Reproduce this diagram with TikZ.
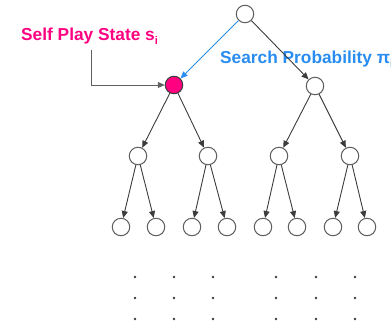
\documentclass[tikz,border=0pt]{standalone}
\usepackage{fontspec}
\setmainfont{Liberation Sans}
\usetikzlibrary{arrows.meta}
\definecolor{statepink}{RGB}{255,0,128}
\definecolor{probblue}{RGB}{40,140,240}
\definecolor{edgegray}{RGB}{60,60,60}
\definecolor{ringgray}{RGB}{95,95,95}
\tikzset{
  x=1pt, y=-1pt,
  treenode/.style={circle, draw=ringgray, line width=1pt, fill=white, minimum size=17.5pt, inner sep=0pt},
  edge/.style={draw=edgegray, line width=0.9pt, -{Triangle[length=7pt,width=6pt]}},
  dotmark/.style={circle, fill=edgegray, minimum size=2.6pt, inner sep=0pt},
  lbl/.style={font=\bfseries\fontsize{17.3}{18}\selectfont, inner sep=0pt, anchor=base west}
}
\begin{document}
\begin{tikzpicture}
\useasboundingbox (0,0) rectangle (391,325);
\clip (0,0) rectangle (391,325);

% tree nodes
\node[treenode] (r) at (245,14) {};
\node[treenode, fill=statepink, draw=edgegray] (a) at (174,85) {};
\node[treenode] (b) at (315,86) {};
\node[treenode] (a1) at (138,156) {};
\node[treenode] (a2) at (208,156) {};
\node[treenode] (b1) at (279,156) {};
\node[treenode] (b2) at (350,156) {};
\foreach \n/\x in {a11/121, a12/156, a21/192, a22/227, b11/263, b12/297, b21/333, b22/367}
  \node[treenode] (\n) at (\x,227) {};

% labels
\node[lbl, text=statepink] (sp) at (21,40) {Self Play State s\raisebox{-0.25em}{\fontsize{11}{12}\selectfont i}};
\node[lbl, text=probblue] (pr) at (220,63) {Search Probability π\raisebox{-0.25em}{\fontsize{11}{12}\selectfont i}};

% connectors
\coordinate (spfoot) at (91,50);
\draw[edge, draw=ringgray] (spfoot) |- (a.west);
\draw[edge, draw=probblue] (r) -- (a);
\draw[edge] (r) -- (b);
\draw[edge] (a) -- (a1);
\draw[edge] (a) -- (a2);
\draw[edge] (b) -- (b1);
\draw[edge] (b) -- (b2);
\draw[edge] (a1) -- (a11);
\draw[edge] (a1) -- (a12);
\draw[edge] (a2) -- (a21);
\draw[edge] (a2) -- (a22);
\draw[edge] (b1) -- (b11);
\draw[edge] (b1) -- (b12);
\draw[edge] (b2) -- (b21);
\draw[edge] (b2) -- (b22);

% continuation dots
\foreach \x [count=\i] in {135,174,213,276,316,355}
  \foreach \y [count=\j] in {277,298,319}
    \node[dotmark] (d\i\j) at (\x,\y) {};
\end{tikzpicture}
\end{document}
